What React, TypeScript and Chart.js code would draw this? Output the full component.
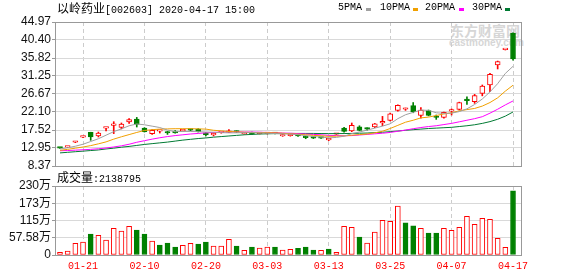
import React, { useEffect, useRef } from "react";
import { Chart, registerables } from "chart.js";

Chart.register(...registerables);

// ---------------- DATA ----------------
const dates = [
  "01-16", "01-17", "01-20", "01-21", "01-22", "01-23",
  "02-03", "02-04", "02-05", "02-06", "02-07", "02-10", "02-11", "02-12", "02-13", "02-14",
  "02-17", "02-18", "02-19", "02-20", "02-21", "02-24", "02-25", "02-26", "02-27", "02-28",
  "03-02", "03-03", "03-04", "03-05", "03-06", "03-09", "03-10", "03-11", "03-12", "03-13",
  "03-16", "03-17", "03-18", "03-19", "03-20", "03-23", "03-24", "03-25", "03-26", "03-27",
  "03-30", "03-31", "04-01", "04-02", "04-03", "04-07", "04-08", "04-09", "04-10", "04-13",
  "04-14", "04-15", "04-16", "04-17",
];

const opens = [
  12.95, 13.15, 14.4, 15.7, 16.9, 16.0, 17.98, 18.7, 18.18, 19.55,
  20.32, 18.03, 16.6, 17.25, 17.09, 17.27, 17.3, 17.6, 17.77, 16.83,
  16.3, 16.85, 16.9, 17.15, 16.55, 16.8, 16.6, 16.6, 16.75, 16.0,
  16.05, 16.2, 15.8, 15.6, 15.55, 15.0, 16.45, 18.03, 17.27, 18.3,
  17.85, 18.28, 19.3, 19.96, 22.5, 22.8, 23.7, 21.2, 22.43, 20.8,
  20.73, 22.3, 22.77, 25.1, 24.71, 26.83, 28.96, 34.04, 37.95, 42.07,
];
const highs = [
  13.0, 13.3, 14.6, 15.9, 16.95, 17.0, 18.1, 19.63, 19.3, 20.4,
  20.72, 18.1, 17.6, 17.35, 17.15, 17.35, 17.5, 17.7, 17.85, 16.9,
  16.8, 17.0, 17.6, 17.3, 16.8, 17.0, 16.8, 16.8, 16.85, 16.3,
  16.3, 16.3, 16.0, 15.7, 15.65, 15.3, 16.6, 18.2, 19.3, 18.6,
  18.1, 19.2, 20.98, 21.8, 23.9, 23.1, 24.5, 23.2, 22.6, 21.33,
  22.1, 22.86, 24.6, 25.97, 26.57, 28.96, 31.9, 35.05, 38.05, 42.2,
];
const lows = [
  12.85, 13.1, 14.3, 15.6, 14.9, 15.74, 17.27, 16.6, 17.8, 19.2,
  18.28, 17.0, 16.4, 16.75, 16.4, 16.7, 17.2, 17.3, 17.0, 16.0,
  16.0, 16.7, 16.85, 16.9, 16.45, 16.4, 16.5, 16.5, 16.5, 15.9,
  15.95, 15.9, 15.3, 15.35, 15.35, 14.8, 16.4, 17.0, 17.1, 17.3,
  17.5, 18.1, 18.6, 19.8, 22.3, 22.5, 21.9, 20.5, 21.1, 20.22,
  20.5, 21.33, 22.6, 24.03, 24.29, 26.2, 27.26, 33.03, 37.85, 35.3,
];
const closes = [
  12.92, 13.25, 14.5, 15.8, 15.74, 16.76, 18.05, 19.05, 19.05, 20.14,
  18.94, 17.1, 17.45, 17.3, 16.76, 16.76, 17.4, 17.5, 17.09, 16.25,
  16.45, 16.95, 17.25, 17.0, 16.65, 16.45, 16.7, 16.7, 16.6, 16.15,
  16.15, 16.0, 15.6, 15.45, 15.45, 15.1, 16.55, 17.17, 18.69, 17.42,
  17.75, 19.1, 19.7, 21.66, 23.77, 22.9, 22.2, 22.6, 21.25, 20.7,
  22.0, 22.4, 24.46, 25.0, 26.24, 28.71, 31.66, 34.88, 38.0, 35.6,
];

// volume in 万 (10k)
const volumes = [
  8.9, 13.3, 39, 43, 70, 65.6, 50, 89, 80, 95.6,
  83, 70, 46.7, 33, 40, 26.7, 32, 39, 36.7, 43,
  30, 30, 52, 30, 15.5, 26.7, 23, 26.7, 26.7, 16.7,
  19, 22, 26.7, 16.7, 15.5, 20, 9, 95.6, 92, 60,
  40, 76.7, 115.6, 112, 163, 107, 97, 89, 73, 73,
  89, 82, 92, 129, 102, 122, 119, 55.6, 25.6, 213.88,
];
// 1 = red (up), 0 = green (down)
const volUp = [
  1, 1, 1, 1, 0, 1, 1, 1, 1, 1,
  0, 0, 1, 0, 0, 0, 1, 1, 0, 0,
  1, 1, 1, 0, 1, 0, 1, 1, 0, 1,
  1, 0, 0, 0, 1, 0, 1, 1, 1, 0,
  1, 1, 1, 1, 1, 0, 0, 1, 0, 0,
  1, 1, 1, 1, 1, 1, 1, 1, 1, 0,
];

const ma5 = [
  12.7, 13.0, 13.4, 13.9, 14.6, 15.3, 16.2, 17.1, 17.8, 18.6,
  19.05, 18.85, 18.5, 18.15, 17.5, 17.1, 17.15, 17.15, 17.1, 17.0,
  16.95, 16.85, 16.8, 16.8, 16.85, 16.85, 16.8, 16.7, 16.62, 16.52,
  16.46, 16.32, 16.1, 15.87, 15.73, 15.52, 15.63, 15.94, 16.6, 17.0,
  17.5, 18.0, 18.5, 19.1, 20.4, 21.4, 22.0, 22.6, 22.5, 21.9,
  21.75, 21.8, 22.2, 22.9, 24.0, 25.4, 27.2, 29.3, 31.9, 33.7,
];
const ma10 = [
  12.35, 12.6, 12.9, 13.2, 13.55, 14.0, 14.5, 15.2, 15.8, 16.35,
  16.9, 17.4, 17.6, 17.75, 17.8, 17.85, 17.85, 17.85, 17.8, 17.75,
  17.45, 17.3, 17.15, 17.05, 16.95, 16.9, 16.85, 16.85, 16.8, 16.7,
  16.55, 16.45, 16.3, 16.15, 16.05, 15.9, 15.95, 16.0, 16.2, 16.35,
  16.5, 16.8, 17.2, 17.9, 18.7, 19.5, 20.0, 20.6, 20.8, 21.2,
  21.6, 21.9, 22.4, 22.7, 23.0, 23.6, 24.5, 25.7, 27.4, 28.9,
];
const ma20 = [
  12.25, 12.3, 12.4, 12.5, 12.6, 12.75, 12.95, 13.2, 13.5, 13.9,
  14.4, 14.8, 15.2, 15.55, 15.85, 16.1, 16.3, 16.5, 16.65, 16.8,
  16.9, 17.0, 17.05, 17.05, 17.0, 17.0, 16.95, 16.9, 16.85, 16.75,
  16.7, 16.6, 16.5, 16.4, 16.3, 16.15, 16.1, 16.05, 16.1, 16.25,
  16.4, 16.55, 16.7, 16.9, 17.2, 17.5, 17.85, 18.15, 18.4, 18.6,
  18.9, 19.2, 19.6, 20.0, 20.4, 20.9, 21.8, 22.8, 23.9, 24.9,
];
const ma30 = [
  11.7, 11.85, 12.0, 12.15, 12.3, 12.45, 12.7, 12.9, 13.15, 13.35,
  13.6, 13.85, 14.05, 14.25, 14.45, 14.7, 14.95, 15.15, 15.35, 15.5,
  15.7, 15.85, 16.0, 16.15, 16.3, 16.4, 16.5, 16.55, 16.6, 16.62,
  16.65, 16.65, 16.65, 16.65, 16.62, 16.6, 16.6, 16.62, 16.65, 16.7,
  16.75, 16.85, 16.95, 17.1, 17.25, 17.45, 17.6, 17.75, 17.9, 18.0,
  18.1, 18.2, 18.4, 18.6, 18.85, 19.2, 19.65, 20.25, 21.05, 22.1,
];

const xTickIdx = [3, 11, 19, 27, 35, 43, 51, 59];
const priceTickLabels = ["8.37", "12.95", "17.52", "22.10", "26.67", "31.25", "35.82", "40.40", "44.97"];
const volTickValues = [0, 57.58, 115.16, 172.74, 230.32];
const volTickLabels = ["0", "57.58万", "115万", "173万", "230万"];

const titleName = "以岭药业";
const titleRest = "[002603] 2020-04-17 15:00";
const volLabelName = "成交量";
const volLabelRest = ":2138795";
const legendItems = [
  { label: "5PMA", color: "#a0a0a0" },
  { label: "10PMA", color: "#f0a000" },
  { label: "20PMA", color: "#ff00ff" },
  { label: "30PMA", color: "#007a33" },
];

// ---------------- STYLE ----------------
const RED = "#ff0000";
const GREEN = "#008000";
const X_MIN = -0.65;
const X_MAX = 60.17;
const AXIS_FONT = '"Liberation Sans", "Noto Sans CJK SC", sans-serif';
const MONO = '"Liberation Mono", "DejaVu Sans Mono", monospace';
const CJK = '"Noto Sans CJK SC", sans-serif';

const framePlugin = {
  id: "frame",
  afterDraw(chart: any) {
    const { ctx, chartArea: a } = chart;
    ctx.save();
    ctx.strokeStyle = "#999999";
    ctx.lineWidth = 1;
    const l = Math.round(a.left) + 0.5;
    const t = Math.round(a.top) + 0.5;
    const r = Math.round(a.right) - 0.5;
    const b = Math.round(a.bottom) + 0.5;
    ctx.strokeRect(l, t, r - l, b - t);
    ctx.restore();
  },
};

const idx = dates.map((_, i) => i);

function xScale(showLabels: boolean) {
  return {
    type: "linear",
    min: X_MIN,
    max: X_MAX,
    offset: false,
    grid: { offset: false, color: "#cccccc", drawTicks: false, lineWidth: 1 },
    border: { display: false, dash: [4, 3] },
    ticks: {
      display: showLabels,
      autoSkip: false,
      maxRotation: 0,
      padding: 5,
      color: RED,
      font: { family: MONO, size: 10 },
      callback: (v: any) => dates[Math.round(v)] ?? "",
    },
    afterBuildTicks: (s: any) => {
      s.ticks = xTickIdx.map((v) => ({ value: v }));
    },
    afterFit: (s: any) => {
      s.height = showLabels ? 21 : 0;
    },
  };
}

export default function App() {
  const priceRef = useRef<HTMLCanvasElement>(null);
  const volRef = useRef<HTMLCanvasElement>(null);

  useEffect(() => {
    const up = idx.map((i) => closes[i] >= opens[i]);
    const lineDs = (data: number[], color: string) => ({
      type: "line",
      data: data.map((v, i) => ({ x: i, y: v })),
      borderColor: color,
      borderWidth: 1,
      pointRadius: 0,
      tension: 0,
      fill: false,
      order: 0,
    });

    const priceChart = new Chart(priceRef.current as HTMLCanvasElement, {
      type: "bar",
      data: {
        datasets: [
          lineDs(ma5, legendItems[0].color),
          lineDs(ma10, legendItems[1].color),
          lineDs(ma20, legendItems[2].color),
          lineDs(ma30, legendItems[3].color),
          {
            type: "bar",
            data: idx.map((i) => ({ x: i, y: [lows[i], highs[i]] })),
            backgroundColor: idx.map((i) => (up[i] ? RED : GREEN)),
            borderWidth: 0,
            barThickness: 1,
            grouped: false,
            order: 2,
          },
          {
            type: "bar",
            data: idx.map((i) => ({ x: i, y: [opens[i], closes[i]] })),
            backgroundColor: idx.map((i) => (up[i] ? "#ffffff" : GREEN)),
            borderColor: idx.map((i) => (up[i] ? RED : GREEN)),
            borderWidth: 1,
            borderSkipped: false,
            barThickness: 5,
            minBarLength: 1.5,
            grouped: false,
            order: 1,
          },
        ] as any,
      },
      options: {
        animation: false,
        responsive: false,
        maintainAspectRatio: false,
        events: [],
        layout: { padding: { left: 0, right: 56, top: 22, bottom: 14 } },
        plugins: { legend: { display: false }, tooltip: { enabled: false } },
        scales: {
          x: xScale(false) as any,
          y: {
            type: "linear",
            min: 8.37,
            max: 44.97,
            beginAtZero: false,
            grid: { color: "#d9d9d9", tickLength: 3, tickColor: "#999999" },
            border: { display: false },
            ticks: {
              autoSkip: false,
              padding: 1,
              color: "#111111",
              font: { family: AXIS_FONT, size: 12 },
              callback: (_v: any, i: number) => priceTickLabels[i],
            },
            afterBuildTicks: (s: any) => {
              s.ticks = priceTickLabels.map((t) => ({ value: parseFloat(t) }));
            },
            afterFit: (s: any) => {
              s.width = 55;
            },
          } as any,
        },
      },
      plugins: [framePlugin],
    });

    const volChart = new Chart(volRef.current as HTMLCanvasElement, {
      type: "bar",
      data: {
        datasets: [
          {
            type: "bar",
            data: idx.map((i) => ({ x: i, y: volumes[i] })),
            backgroundColor: idx.map((i) => (volUp[i] ? "#ffffff" : GREEN)),
            borderColor: idx.map((i) => (volUp[i] ? RED : GREEN)),
            borderWidth: 1,
            borderSkipped: false,
            barThickness: 5,
            grouped: false,
          },
        ] as any,
      },
      options: {
        animation: false,
        responsive: false,
        maintainAspectRatio: false,
        events: [],
        layout: { padding: { left: 0, right: 56, top: 16, bottom: 0 } },
        plugins: { legend: { display: false }, tooltip: { enabled: false } },
        scales: {
          x: xScale(true) as any,
          y: {
            type: "linear",
            min: 0,
            max: 230.32,
            grid: { color: "#d9d9d9", tickLength: 3, tickColor: "#999999" },
            border: { display: false },
            ticks: {
              autoSkip: false,
              padding: 1,
              color: "#111111",
              font: { family: AXIS_FONT, size: 12 },
              callback: (_v: any, i: number) => volTickLabels[i],
            },
            afterBuildTicks: (s: any) => {
              s.ticks = volTickValues.map((v) => ({ value: v }));
            },
            afterFit: (s: any) => {
              s.width = 55;
            },
          } as any,
        },
      },
      plugins: [framePlugin],
    });

    return () => {
      priceChart.destroy();
      volChart.destroy();
    };
  }, []);

  const legendPos = [
    { text: 338, box: 366 },
    { text: 380, box: 413 },
    { text: 425, box: 459 },
    { text: 472, box: 505 },
  ];

  return (
    <div
      style={{
        position: "fixed",
        left: 0,
        top: 0,
        width: 578,
        height: 276,
        background: "#ffffff",
        overflow: "hidden",
        color: "#000",
      }}
    >
      {/* watermark */}
      <div
        style={{
          position: "absolute",
          left: 450,
          top: 22,
          font: `bold 14px ${CJK}`,
          lineHeight: "16px",
          color: "#d6d6d6",
          whiteSpace: "nowrap",
        }}
      >
        东方财富网
      </div>
      <div
        style={{
          position: "absolute",
          left: 449,
          top: 37,
          font: `bold 10px "Liberation Sans", sans-serif`,
          lineHeight: "12px",
          color: "#d6d6d6",
          whiteSpace: "nowrap",
        }}
      >
        eastmoney.com
      </div>

      <canvas
        ref={priceRef}
        width={578}
        height={180}
        style={{ position: "absolute", left: 0, top: 0, width: 578, height: 180 }}
      />
      <canvas
        ref={volRef}
        width={578}
        height={106}
        style={{ position: "absolute", left: 0, top: 170, width: 578, height: 106 }}
      />

      {/* title */}
      <div
        style={{
          position: "absolute",
          left: 57,
          top: -1,
          lineHeight: "14px",
          whiteSpace: "nowrap",
        }}
      >
        <span style={{ font: `12px ${CJK}` }}>{titleName}</span>
        <span style={{ font: `10px ${MONO}` }}>{titleRest}</span>
      </div>

      {/* legend */}
      {legendItems.map((it, k) => (
        <React.Fragment key={it.label}>
          <div
            style={{
              position: "absolute",
              left: legendPos[k].text,
              top: 2,
              font: `10px ${MONO}`,
              lineHeight: "12px",
              whiteSpace: "nowrap",
            }}
          >
            {it.label}
          </div>
          <div
            style={{
              position: "absolute",
              left: legendPos[k].box,
              top: 8,
              width: 5,
              height: 3,
              background: it.color,
            }}
          />
        </React.Fragment>
      ))}

      {/* volume label */}
      <div
        style={{
          position: "absolute",
          left: 57,
          top: 168,
          lineHeight: "14px",
          whiteSpace: "nowrap",
        }}
      >
        <span style={{ font: `12px ${CJK}` }}>{volLabelName}</span>
        <span style={{ font: `10px ${MONO}` }}>{volLabelRest}</span>
      </div>
    </div>
  );
}
